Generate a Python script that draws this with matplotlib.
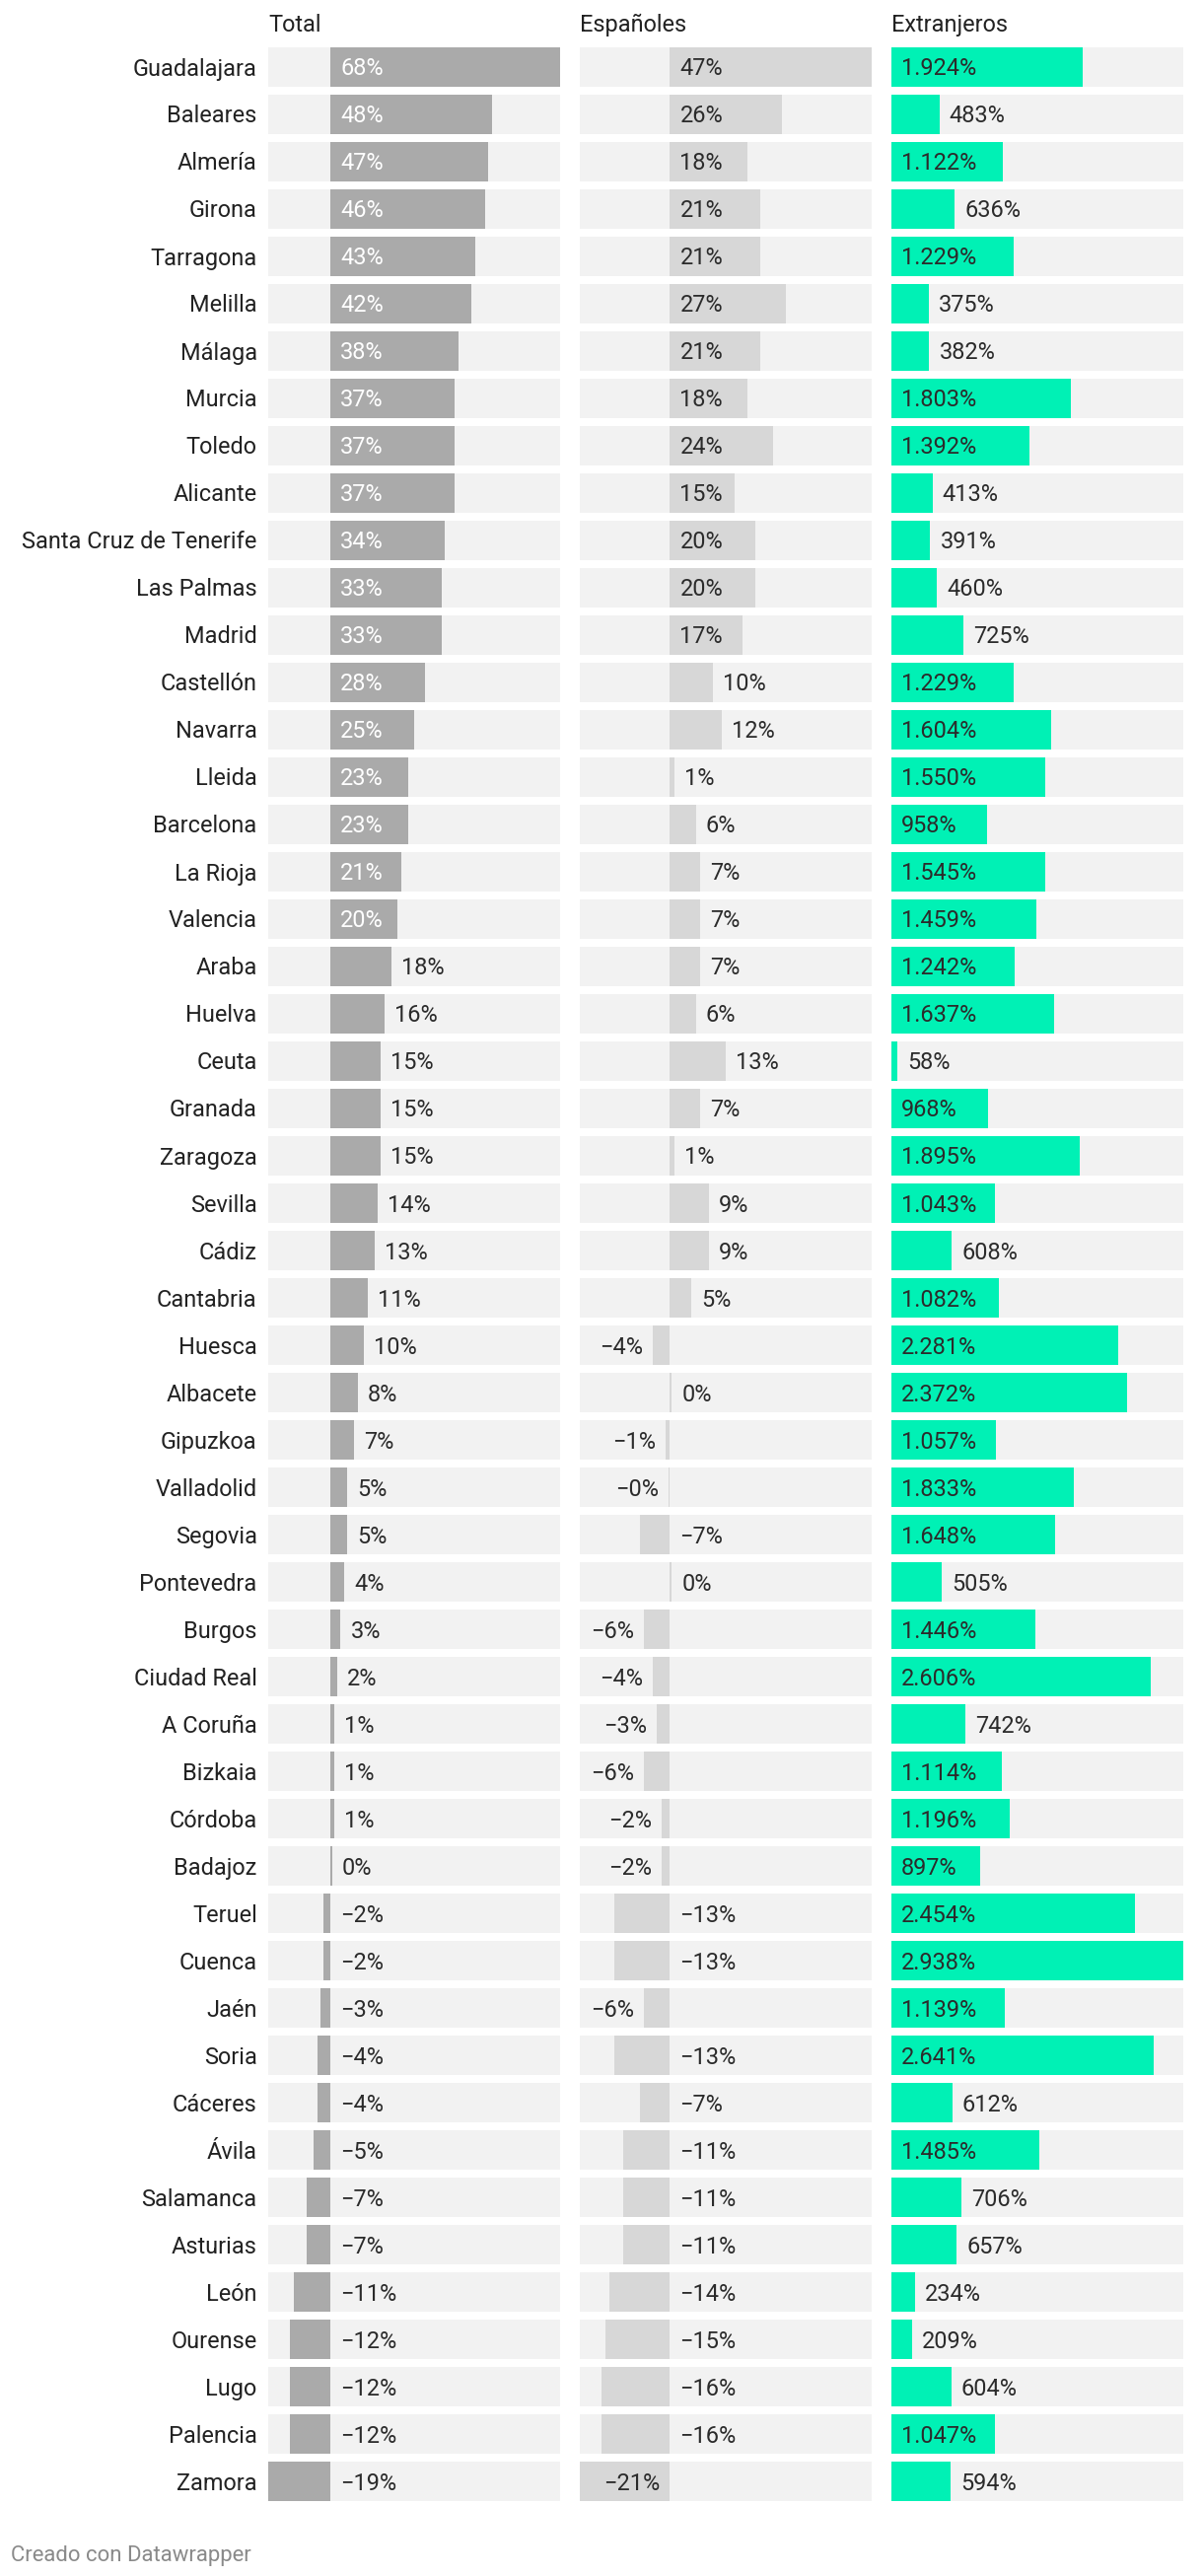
import matplotlib
matplotlib.use("Agg")
import matplotlib.pyplot as plt
from matplotlib.transforms import blended_transform_factory

plt.rcParams['font.family'] = ['Roboto', 'DejaVu Sans']

provinces = [
    "Guadalajara", "Baleares", "Almería", "Girona", "Tarragona", "Melilla", "Málaga",
    "Murcia", "Toledo", "Alicante", "Santa Cruz de Tenerife", "Las Palmas", "Madrid",
    "Castellón", "Navarra", "Lleida", "Barcelona", "La Rioja", "Valencia", "Araba",
    "Huelva", "Ceuta", "Granada", "Zaragoza", "Sevilla", "Cádiz", "Cantabria", "Huesca",
    "Albacete", "Gipuzkoa", "Valladolid", "Segovia", "Pontevedra", "Burgos",
    "Ciudad Real", "A Coruña", "Bizkaia", "Córdoba", "Badajoz", "Teruel", "Cuenca",
    "Jaén", "Soria", "Cáceres", "Ávila", "Salamanca", "Asturias", "León", "Ourense",
    "Lugo", "Palencia", "Zamora",
]

total = [
    68.4, 48, 47, 46, 43, 42, 38, 37, 37, 37, 34, 33, 33, 28, 25, 23, 23, 21, 20, 18,
    16, 15, 15, 15, 14, 13, 11, 10, 8, 7, 5, 5, 4, 3, 2, 1, 1, 1, 0.4, -2, -2, -3, -4,
    -4, -5, -7, -7, -11, -12, -12, -12, -18.6,
]

espanoles = [
    47, 26, 18, 21, 21, 27, 21, 18, 24, 15, 20, 20, 17, 10, 12, 1, 6, 7, 7, 7, 6, 13,
    7, 1, 9, 9, 5, -4, 0.4, -1, -0.4, -7, 0.4, -6, -4, -3, -6, -2, -2, -13, -13, -6,
    -13, -7, -11, -11, -11, -14, -15, -16, -16, -21,
]

extranjeros = [
    1924, 483, 1122, 636, 1229, 375, 382, 1803, 1392, 413, 391, 460, 725, 1229, 1604,
    1550, 958, 1545, 1459, 1242, 1637, 58, 968, 1895, 1043, 608, 1082, 2281, 2372,
    1057, 1833, 1648, 505, 1446, 2606, 742, 1114, 1196, 897, 2454, 2938, 1139, 2641,
    612, 1485, 706, 657, 234, 209, 604, 1047, 594,
]

titles = ["Total", "Españoles", "Extranjeros"]


def fmt_pct(v):
    return ("\u2212" if v < 0 else "") + f"{abs(v):.0f}%"


def fmt_thousands(v):
    return f"{v:,.0f}".replace(",", ".") + "%"


W, H = 1220, 2612
fig = plt.figure(figsize=(W / 100, H / 100), dpi=100)
fig.patch.set_facecolor("white")

FS = 16.9
ROW = 48.0
BAR_H = 40.0 / ROW
TOP, BOTTOM = 48, 2536
PANEL_W = 296
PAD = 10
BASE_OFF = 8.5 / ROW
TXT = "#2b2b2b"
BG = "#f2f2f2"

n = len(provinces)
ys = list(range(n))

panels = [
    dict(title=titles[0], values=total, left=272, domain=(min(total), max(total)),
         color="#aaaaaa", inside="white", fmt=fmt_pct),
    dict(title=titles[1], values=espanoles, left=588,
         domain=(min(espanoles), max(espanoles)),
         color="#d7d7d7", inside=TXT, fmt=fmt_pct),
    dict(title=titles[2], values=extranjeros, left=904, domain=(0, max(extranjeros)),
         color="#00f1b5", inside=TXT, fmt=fmt_thousands),
]

renderer = fig.canvas.get_renderer()
axes = []
for p in panels:
    ax = fig.add_axes([p["left"] / W, (H - BOTTOM) / H, PANEL_W / W, (BOTTOM - TOP) / H])
    a, b = p["domain"]
    ax.set_xlim(a, b)
    ax.set_ylim(n - 1 + 20 / ROW, -20 / ROW)
    ax.axis("off")
    ax.barh(ys, [b - a] * n, left=a, height=BAR_H, color=BG, linewidth=0)
    ax.barh(ys, p["values"], height=BAR_H, color=p["color"], linewidth=0)
    axes.append(ax)

    fig.text(p["left"] / W, 1 - 32.3 / H, p["title"], fontsize=FS, color="#222222",
             ha="left", va="baseline")

    zero_px = ax.transData.transform((0, 0))[0]
    left_px = ax.transData.transform((a, 0))[0]
    for i, v in enumerate(p["values"]):
        label = p["fmt"](v)
        t = ax.text(0, 0, label, fontsize=FS)
        tw = t.get_window_extent(renderer).width
        t.remove()
        end_px = ax.transData.transform((v, 0))[0]
        y = i + BASE_OFF
        if v >= 0:
            if end_px - zero_px >= tw + 2 * PAD:
                off, ha, col = PAD, "left", p["inside"]
                anchor = 0
            else:
                off, ha, col = PAD, "left", TXT
                anchor = v
        else:
            if zero_px - end_px >= tw + 2 * PAD:
                off, ha, col = -PAD, "right", p["inside"]
                anchor = 0
            elif end_px - left_px >= tw + 2 * PAD:
                off, ha, col = -PAD, "right", TXT
                anchor = v
            else:
                off, ha, col = PAD, "left", TXT
                anchor = 0
        ax.annotate(label, xy=(anchor, y), xytext=(off, 0), textcoords="offset pixels",
                    ha=ha, va="baseline", fontsize=FS, color=col, annotation_clip=False)

# Category labels
lab_tr = blended_transform_factory(fig.transFigure, axes[0].transData)
for i, name in enumerate(provinces):
    axes[0].text(260.7 / W, i + BASE_OFF, name, transform=lab_tr, ha="right",
                 va="baseline", fontsize=FS, color="#222222")

fig.text(11 / W, 1 - 2596.7 / H, "Creado con Datawrapper", fontsize=15.9,
         color="#8a8a8a", ha="left", va="baseline")

fig.savefig("out.png", dpi=100, facecolor="white")
